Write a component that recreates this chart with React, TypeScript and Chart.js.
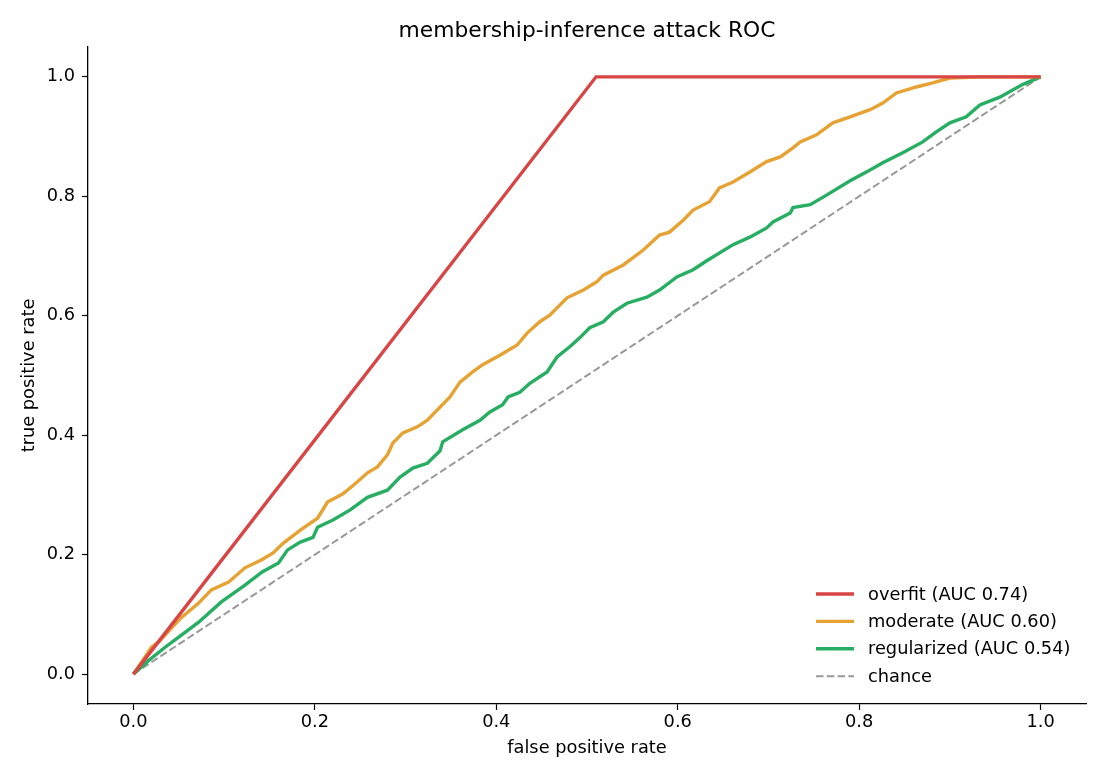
import React, { useEffect, useRef } from "react";
import { Chart, registerables } from "chart.js";

Chart.register(...registerables);

const TITLE = "membership-inference attack ROC";
const X_LABEL = "false positive rate";
const Y_LABEL = "true positive rate";
const TICKS = [0, 0.2, 0.4, 0.6, 0.8, 1.0];

const SERIES_NAMES = ["overfit (AUC 0.74)", "moderate (AUC 0.60)", "regularized (AUC 0.54)", "chance"];
const SERIES_COLORS = ["#d94545", "#e6a233", "#28ae62", "#999999"];

const overfitFpr = [0, 0.51, 1.0];
const overfitTpr = [0, 1.0, 1.0];

const moderateFpr = [0, 0.009, 0.020, 0.028, 0.042, 0.053, 0.072, 0.086, 0.105, 0.123, 0.141, 0.154, 0.165, 0.184, 0.203, 0.214, 0.231, 0.247, 0.258, 0.269, 0.280, 0.286, 0.297, 0.313, 0.324, 0.349, 0.360, 0.374, 0.385, 0.404, 0.423, 0.434, 0.448, 0.459, 0.478, 0.496, 0.511, 0.518, 0.540, 0.562, 0.580, 0.591, 0.606, 0.617, 0.635, 0.646, 0.661, 0.680, 0.698, 0.713, 0.727, 0.735, 0.753, 0.771, 0.790, 0.812, 0.826, 0.841, 0.863, 0.881, 0.900, 0.936, 1.0];
const moderateTpr = [0, 0.020, 0.045, 0.054, 0.077, 0.095, 0.119, 0.141, 0.154, 0.178, 0.191, 0.203, 0.219, 0.241, 0.261, 0.288, 0.302, 0.322, 0.337, 0.347, 0.367, 0.387, 0.404, 0.414, 0.425, 0.464, 0.489, 0.506, 0.518, 0.534, 0.551, 0.571, 0.590, 0.601, 0.630, 0.643, 0.657, 0.668, 0.685, 0.710, 0.735, 0.740, 0.760, 0.777, 0.791, 0.814, 0.824, 0.841, 0.858, 0.866, 0.881, 0.891, 0.903, 0.923, 0.933, 0.945, 0.956, 0.973, 0.983, 0.990, 0.998, 1.0, 1.0];

const regularizedFpr = [0, 0.017, 0.035, 0.050, 0.072, 0.097, 0.123, 0.142, 0.160, 0.170, 0.184, 0.198, 0.203, 0.220, 0.239, 0.258, 0.280, 0.294, 0.308, 0.324, 0.338, 0.341, 0.363, 0.382, 0.393, 0.407, 0.413, 0.426, 0.437, 0.456, 0.467, 0.481, 0.492, 0.503, 0.518, 0.529, 0.544, 0.566, 0.580, 0.599, 0.617, 0.632, 0.661, 0.680, 0.698, 0.705, 0.724, 0.727, 0.746, 0.764, 0.790, 0.812, 0.826, 0.848, 0.870, 0.885, 0.900, 0.918, 0.933, 0.955, 0.980, 1.0];
const regularizedTpr = [0, 0.023, 0.045, 0.062, 0.087, 0.121, 0.149, 0.171, 0.186, 0.208, 0.221, 0.229, 0.246, 0.258, 0.275, 0.296, 0.308, 0.330, 0.345, 0.353, 0.374, 0.389, 0.409, 0.425, 0.439, 0.451, 0.464, 0.472, 0.487, 0.506, 0.531, 0.548, 0.563, 0.580, 0.590, 0.606, 0.621, 0.631, 0.643, 0.665, 0.677, 0.692, 0.719, 0.732, 0.747, 0.757, 0.772, 0.781, 0.786, 0.802, 0.826, 0.844, 0.856, 0.873, 0.891, 0.908, 0.923, 0.933, 0.953, 0.966, 0.987, 1.0];

const chanceFpr = [0, 1];
const chanceTpr = [0, 1];

const FONT = "'DejaVu Sans', sans-serif";
const SMALL = 17.8;
const BIG = 21.8;
const DASH = [7.5, 3.3];

function pts(xs: number[], ys: number[]) {
  return xs.map((x, i) => ({ x, y: ys[i] }));
}

const legendPlugin = {
  id: "insideLegend",
  afterDraw(chart: any) {
    const { ctx, chartArea } = chart;
    const x0 = chartArea.right - 270;
    const x1 = x0 + 38;
    const tx = x0 + 52;
    const yStart = chartArea.bottom - 110;
    const step = 27.4;
    ctx.save();
    ctx.font = `${SMALL}px ${FONT}`;
    ctx.textBaseline = "middle";
    ctx.textAlign = "left";
    SERIES_NAMES.forEach((name, i) => {
      const y = yStart + i * step;
      ctx.beginPath();
      ctx.strokeStyle = SERIES_COLORS[i];
      if (i === 3) {
        ctx.lineWidth = 2;
        ctx.setLineDash(DASH);
      } else {
        ctx.lineWidth = 3.4;
        ctx.setLineDash([]);
      }
      ctx.moveTo(x0, y);
      ctx.lineTo(x1, y);
      ctx.stroke();
      ctx.setLineDash([]);
      ctx.fillStyle = "#000";
      ctx.fillText(name, tx, y + 1);
    });
    ctx.restore();
  },
};

export default function App() {
  const ref = useRef<HTMLCanvasElement | null>(null);
  useEffect(() => {
    document.body.style.margin = "0";
    const canvas = ref.current;
    if (!canvas) return;
    const chart = new Chart(canvas, {
      type: "line",
      data: {
        datasets: [
          {
            label: SERIES_NAMES[0],
            data: pts(overfitFpr, overfitTpr),
            borderColor: SERIES_COLORS[0],
            borderWidth: 3.4,
            pointRadius: 0,
            tension: 0,
            order: 1,
          },
          {
            label: SERIES_NAMES[1],
            data: pts(moderateFpr, moderateTpr),
            borderColor: SERIES_COLORS[1],
            borderWidth: 3.4,
            pointRadius: 0,
            tension: 0,
            order: 2,
          },
          {
            label: SERIES_NAMES[2],
            data: pts(regularizedFpr, regularizedTpr),
            borderColor: SERIES_COLORS[2],
            borderWidth: 3.4,
            pointRadius: 0,
            tension: 0,
            order: 3,
          },
          {
            label: SERIES_NAMES[3],
            data: pts(chanceFpr, chanceTpr),
            borderColor: SERIES_COLORS[3],
            borderWidth: 2,
            borderDash: DASH,
            pointRadius: 0,
            order: 4,
          },
        ],
      },
      options: {
        animation: false,
        responsive: false,
        layout: { padding: { left: 0, right: 19, top: 0, bottom: 0 } },
        plugins: {
          legend: { display: false },
          tooltip: { enabled: false },
          title: {
            display: true,
            text: TITLE,
            fullSize: false,
            color: "#000",
            font: { family: FONT, size: BIG, weight: "normal" },
            padding: { top: 17.8, bottom: 3 },
          },
        },
        scales: {
          x: {
            type: "linear",
            min: -0.05,
            max: 1.05,
            afterBuildTicks: (s: any) => {
              s.ticks = TICKS.map((v) => ({ value: v }));
            },
            afterFit: (s: any) => {
              s.height = 76;
            },
            grid: {
              display: true,
              drawOnChartArea: false,
              drawTicks: true,
              tickLength: 6,
              tickWidth: 1.2,
              tickColor: "#000",
            },
            border: { display: true, color: "#000", width: 1.3 },
            ticks: {
              color: "#000",
              font: { family: FONT, size: SMALL },
              padding: 1.5,
              maxRotation: 0,
              callback: (v: any) => Number(v).toFixed(1),
            },
            title: {
              display: true,
              text: X_LABEL,
              color: "#000",
              font: { family: FONT, size: SMALL },
              padding: { top: 0, bottom: 21 },
            },
          },
          y: {
            type: "linear",
            min: -0.05,
            max: 1.05,
            afterBuildTicks: (s: any) => {
              s.ticks = TICKS.map((v) => ({ value: v }));
            },
            afterFit: (s: any) => {
              s.width = 88;
            },
            grid: {
              display: true,
              drawOnChartArea: false,
              drawTicks: true,
              tickLength: 6,
              tickWidth: 1.2,
              tickColor: "#000",
            },
            border: { display: true, color: "#000", width: 1.3 },
            ticks: {
              color: "#000",
              font: { family: FONT, size: SMALL },
              padding: 7,
              callback: (v: any) => Number(v).toFixed(1),
            },
            title: {
              display: true,
              text: Y_LABEL,
              color: "#000",
              font: { family: FONT, size: SMALL },
              padding: { top: 18.3, bottom: 0 },
            },
          },
        },
      },
      plugins: [legendPlugin],
    });
    return () => chart.destroy();
  }, []);
  return (
    <div style={{ width: 1105, height: 780, background: "#fff" }}>
      <canvas ref={ref} width={1105} height={780} style={{ display: "block" }} />
    </div>
  );
}
